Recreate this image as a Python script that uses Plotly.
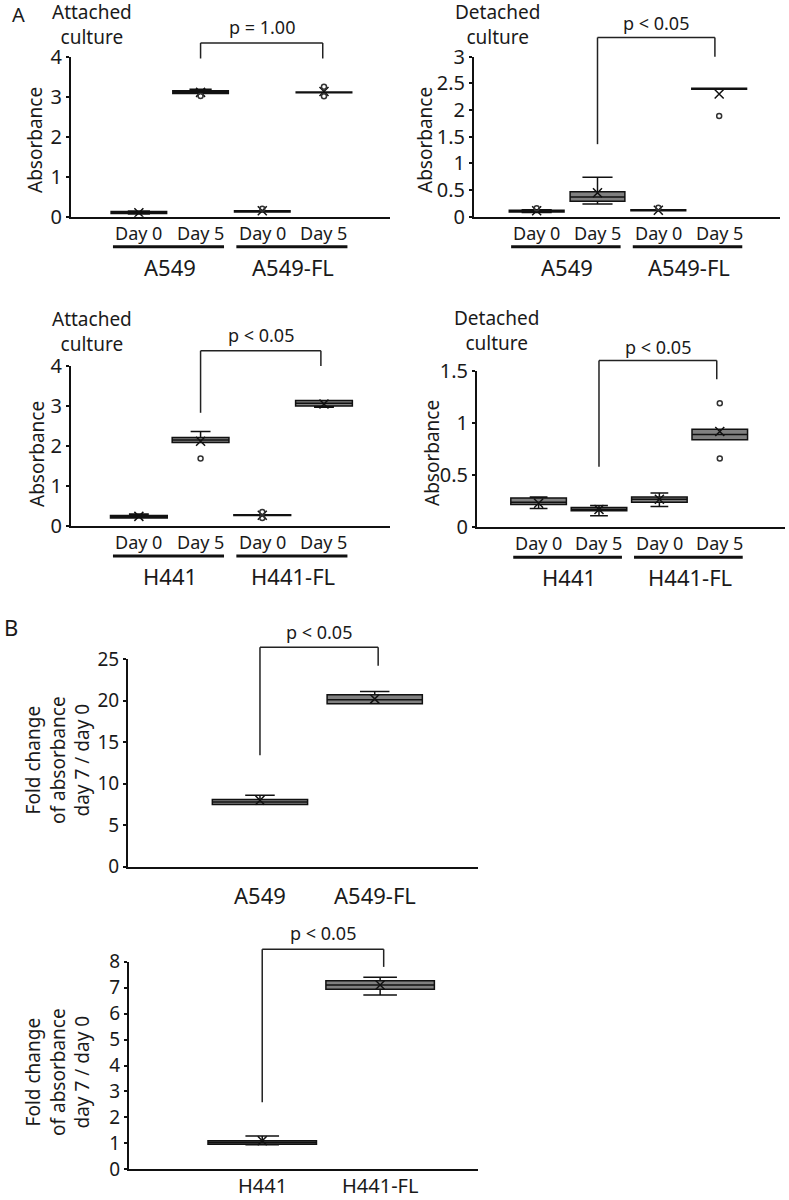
import plotly.graph_objects as go

W, H = 789, 1200
FONT = "Noto Sans"
INK = "#1a1a1a"

# ---------------- data ----------------
# Panel A, attached A549 / A549-FL
tl_q1 = [0.08, 3.09, 0.12, 3.11]
tl_med = [0.10, 3.13, 0.13, 3.12]
tl_q3 = [0.13, 3.16, 0.15, 3.13]
tl_lo = [0.07, 3.09, 0.12, 3.11]
tl_hi = [0.14, 3.20, 0.15, 3.13]
tl_mean = [0.10, 3.12, 0.15, 3.14]
tl_out_x = [1, 2, 3, 3]
tl_out_y = [3.03, 0.20, 3.02, 3.26]

# Panel A, detached A549 / A549-FL
tr_q1 = [0.09, 0.29, 0.11, 2.39]
tr_med = [0.11, 0.37, 0.12, 2.40]
tr_q3 = [0.12, 0.47, 0.13, 2.41]
tr_lo = [0.08, 0.24, 0.11, 2.39]
tr_hi = [0.13, 0.74, 0.13, 2.41]
tr_mean = [0.11, 0.45, 0.12, 2.30]
tr_out_x = [0, 2, 3]
tr_out_y = [0.16, 0.17, 1.89]

# Panel A, attached H441 / H441-FL
bl_q1 = [0.20, 2.09, 0.26, 3.00]
bl_med = [0.23, 2.15, 0.27, 3.07]
bl_q3 = [0.26, 2.21, 0.28, 3.14]
bl_lo = [0.20, 2.09, 0.26, 2.97]
bl_hi = [0.30, 2.36, 0.28, 3.14]
bl_mean = [0.24, 2.12, 0.27, 3.05]
bl_out_x = [1, 2, 2]
bl_out_y = [1.69, 0.20, 0.35]

# Panel A, detached H441 / H441-FL
br_q1 = [0.22, 0.16, 0.24, 0.84]
br_med = [0.24, 0.17, 0.27, 0.89]
br_q3 = [0.28, 0.19, 0.29, 0.94]
br_lo = [0.18, 0.11, 0.20, 0.84]
br_hi = [0.29, 0.21, 0.33, 0.94]
br_mean = [0.23, 0.17, 0.27, 0.92]
br_out_x = [3, 3]
br_out_y = [1.19, 0.66]

# Panel B, fold change A549 / A549-FL
bt_q1 = [7.5, 19.6]
bt_med = [7.8, 20.1]
bt_q3 = [8.1, 20.7]
bt_lo = [7.5, 19.6]
bt_hi = [8.6, 21.1]
bt_mean = [8.0, 20.2]

# Panel B, fold change H441 / H441-FL
bb_q1 = [0.97, 6.94]
bb_med = [1.03, 7.10]
bb_q3 = [1.10, 7.27]
bb_lo = [0.95, 6.72]
bb_hi = [1.28, 7.40]
bb_mean = [1.10, 7.10]

day_labels = ["Day 0", "Day 5", "Day 0", "Day 5"]
groups_a549 = ["A549", "A549-FL"]
groups_h441 = ["H441", "H441-FL"]

# brackets: (x_left, x_right, left_end, right_end, top, text_y, text)
br_tl = (1, 2.98, 3.97, 3.97, 4.36, 4.75, "p = 1.00")
br_tr = (1, 2.93, 1.36, 3.00, 3.36, 3.63, "p < 0.05")
br_bl = (1, 2.95, 2.83, 4.00, 4.38, 4.78, "p < 0.05")
br_br = (1, 2.95, 0.58, 1.42, 1.60, 1.73, "p < 0.05")
br_bt = (0, 1.03, 13.4, 24.2, 26.4, 28.3, "p < 0.05")
br_bb = (0, 1.03, 2.58, 7.80, 8.48, 9.12, "p < 0.05")

# ---------------- layout helpers ----------------
def dx(a, b):
    return [a / W, b / W]

def dy(top, bottom):
    return [1 - bottom / H, 1 - top / H]

panels = [
    dict(n="", xd=(71, 390), yd=(57.3, 216.7), xr=[-1.1, 4.07], yr=[0, 4], dt=1,
         q1=tl_q1, med=tl_med, q3=tl_q3, lo=tl_lo, hi=tl_hi, mean=tl_mean,
         ox=tl_out_x, oy=tl_out_y, bw=0.9, ww=0.4, brk=br_tl, kind="A", groups=groups_a549),
    dict(n="2", xd=(474, 780), yd=(56.7, 216.7), xr=[-1.03, 4.0], yr=[0, 3], dt=0.5,
         q1=tr_q1, med=tr_med, q3=tr_q3, lo=tr_lo, hi=tr_hi, mean=tr_mean,
         ox=tr_out_x, oy=tr_out_y, bw=0.9, ww=0.55, brk=br_tr, kind="A", groups=groups_a549),
    dict(n="3", xd=(71, 390), yd=(366, 526), xr=[-1.1, 4.07], yr=[0, 4], dt=1,
         q1=bl_q1, med=bl_med, q3=bl_q3, lo=bl_lo, hi=bl_hi, mean=bl_mean,
         ox=bl_out_x, oy=bl_out_y, bw=0.92, ww=0.35, brk=br_bl, kind="A", groups=groups_h441),
    dict(n="4", xd=(477, 785), yd=(371, 527.3), xr=[-1.02, 4.08], yr=[0, 1.5], dt=0.5,
         q1=br_q1, med=br_med, q3=br_q3, lo=br_lo, hi=br_hi, mean=br_mean,
         ox=br_out_x, oy=br_out_y, bw=0.92, ww=0.32, brk=br_br, kind="A", groups=groups_h441),
    dict(n="5", xd=(128, 478), yd=(659, 866.7), xr=[-1.15, 1.9], yr=[0, 25], dt=5,
         q1=bt_q1, med=bt_med, q3=bt_q3, lo=bt_lo, hi=bt_hi, mean=bt_mean,
         ox=[], oy=[], bw=0.83, ww=0.31, brk=br_bt, kind="B", groups=groups_a549,
         lab_shift=-28, lab_size=22),
    dict(n="6", xd=(129, 478), yd=(961.7, 1169.3), xr=[-1.13, 1.83], yr=[0, 8], dt=1,
         q1=bb_q1, med=bb_med, q3=bb_q3, lo=bb_lo, hi=bb_hi, mean=bb_mean,
         ox=[], oy=[], bw=0.92, ww=0.31, brk=br_bb, kind="B", groups=groups_h441,
         lab_shift=-16, lab_size=20),
]

fig = go.Figure()
layout = dict(
    width=W, height=H, margin=dict(l=0, r=0, t=0, b=0, pad=0, autoexpand=False),
    autosize=False,
    paper_bgcolor="white", plot_bgcolor="white", showlegend=False,
    font=dict(family=FONT, color=INK, size=18),
    template="none",
)
annotations = []
shapes = []

for p in panels:
    n = p["n"]
    xa, ya = "x" + n, "y" + n
    xs = list(range(len(p["q1"])))
    fig.add_trace(go.Box(
        x=xs, q1=p["q1"], median=p["med"], q3=p["q3"],
        lowerfence=p["lo"], upperfence=p["hi"],
        xaxis=xa, yaxis=ya, width=p["bw"], whiskerwidth=p["ww"],
        fillcolor="#808080", line=dict(color="#111111", width=1.5),
        boxpoints=False, hoverinfo="skip",
    ))
    fig.add_trace(go.Scatter(
        x=xs, y=p["mean"], mode="markers", xaxis=xa, yaxis=ya,
        marker=dict(symbol="x-thin", size=9, line=dict(color="#111111", width=1.5)),
        hoverinfo="skip",
    ))
    if p["ox"]:
        fig.add_trace(go.Scatter(
            x=p["ox"], y=p["oy"], mode="markers", xaxis=xa, yaxis=ya,
            marker=dict(symbol="circle-open", size=5, color="#333333",
                        line=dict(color="#333333", width=1.5)),
            hoverinfo="skip",
        ))

    layout["xaxis" + n] = dict(
        domain=dx(*p["xd"]), range=p["xr"], anchor=ya, automargin=False,
        showline=True, linewidth=2, linecolor="#111111",
        showgrid=False, zeroline=False, ticks="", showticklabels=False,
    )
    layout["yaxis" + n] = dict(
        domain=dy(*p["yd"]), range=p["yr"], anchor=xa, dtick=p["dt"], automargin=False,
        showline=True, linewidth=2, linecolor="#111111",
        showgrid=False, zeroline=False, ticks="outside", ticklen=3, tickwidth=1.5,
        tickcolor="#111111",
        tickfont=dict(size=20 if p["kind"] == "A" else 19, family=FONT, color=INK),
    )

    lo, hi = p["yr"]
    def frac(v):
        return (v - lo) / (hi - lo)

    # significance bracket
    xl, xr_, le, re, top, ty, txt = p["brk"]
    yd_ref = ya + " domain"
    for (x0, y0, x1, y1) in [(xl, le, xl, top), (xl, top, xr_, top), (xr_, top, xr_, re)]:
        shapes.append(dict(type="line", xref=xa, yref=yd_ref,
                           x0=x0, x1=x1, y0=frac(y0), y1=frac(y1),
                           line=dict(color="#222222", width=1.5)))
    annotations.append(dict(text=txt, xref=xa, yref=yd_ref, x=(xl + xr_) / 2, y=frac(ty),
                            showarrow=False, xanchor="center", yanchor="middle",
                            font=dict(size=18, family=FONT, color=INK)))

    if p["kind"] == "A":
        for i, lab in enumerate(day_labels):
            annotations.append(dict(text=lab, xref=xa, yref=yd_ref, x=i, y=0, yshift=-16,
                                    showarrow=False, xanchor="center", yanchor="middle",
                                    font=dict(size=18, family=FONT, color=INK)))
        for g, lab in enumerate(p["groups"]):
            c0, c1 = 2 * g, 2 * g + 1
            shapes.append(dict(type="line", xref=xa, yref=yd_ref, ysizemode="pixel",
                               yanchor=0, x0=c0 - 0.42, x1=c1 + 0.38, y0=-30, y1=-30,
                               line=dict(color="#111111", width=3)))
            annotations.append(dict(text=lab, xref=xa, yref=yd_ref, x=(c0 + c1) / 2, y=0,
                                    yshift=-50, showarrow=False, xanchor="center",
                                    yanchor="middle",
                                    font=dict(size=22, family=FONT, color=INK)))
    else:
        for i, lab in enumerate(p["groups"]):
            annotations.append(dict(text=lab, xref=xa, yref=yd_ref, x=i, y=0,
                                    yshift=p["lab_shift"], showarrow=False,
                                    xanchor="center", yanchor="middle",
                                    font=dict(size=p["lab_size"], family=FONT, color=INK)))

def paper_text(text, px, py, size, angle=0):
    annotations.append(dict(text=text, xref="paper", yref="paper", x=px / W, y=1 - py / H,
                            showarrow=False, xanchor="center", yanchor="middle",
                            textangle=angle, font=dict(size=size, family=FONT, color=INK)))

paper_text("A", 18, 15, 20)
paper_text("B", 11, 627, 22)
paper_text("Attached<br>culture", 92, 24, 19)
paper_text("Detached<br>culture", 497, 24, 19)
paper_text("Attached<br>culture", 92, 331, 19)
paper_text("Detached<br>culture", 496, 330, 19)
paper_text("Absorbance", 35, 140, 19, -90)
paper_text("Absorbance", 425, 140, 19, -90)
paper_text("Absorbance", 37, 454, 19, -90)
paper_text("Absorbance", 432, 453, 19, -90)
paper_text("Fold change<br>of absorbance<br>day 7 / day 0", 57, 760, 19, -90)
paper_text("Fold change<br>of absorbance<br>day 7 / day 0", 57, 1072, 19, -90)

layout["annotations"] = annotations
layout["shapes"] = shapes
fig.update_layout(**layout)
fig.write_html(
    "out.html",
    config={"responsive": False, "displayModeBar": False},
    post_script="document.body.style.margin='0px';document.body.style.overflow='hidden';",
)
